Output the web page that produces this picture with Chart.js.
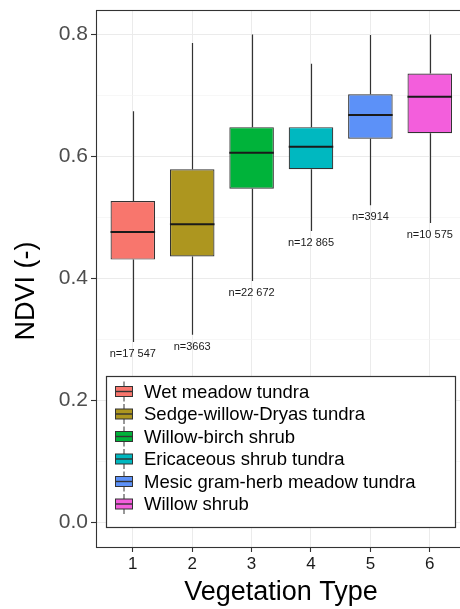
<!DOCTYPE html>
<html>
<head>
<meta charset="utf-8">
<script src="https://cdn.jsdelivr.net/npm/chart.js@4.4.1/dist/chart.umd.min.js"></script>
<style>
  html, body { margin: 0; padding: 0; overflow: hidden; background: #ffffff; }
  canvas { display: block; }
</style>
</head>
<body>
<canvas id="ndvi" width="470" height="609"></canvas>
<script>
// Vegetation type codes on the x axis
const categories = [1, 2, 3, 4, 5, 6];
const typeNames = [
  'Wet meadow tundra',
  'Sedge-willow-Dryas tundra',
  'Willow-birch shrub',
  'Ericaceous shrub tundra',
  'Mesic gram-herb meadow tundra',
  'Willow shrub'
];
// NDVI box-plot statistics per vegetation type
const whiskerLow  = [0.296, 0.308, 0.396, 0.478, 0.520, 0.491];
const lowerQuart  = [0.431, 0.436, 0.547, 0.579, 0.629, 0.638];
const medians     = [0.476, 0.489, 0.606, 0.616, 0.668, 0.698];
const upperQuart  = [0.527, 0.579, 0.648, 0.648, 0.702, 0.736];
const whiskerHigh = [0.674, 0.786, 0.800, 0.752, 0.799, 0.800];
const sampleSizes = ['n=17 547', 'n=3663', 'n=22 672', 'n=12 865', 'n=3914', 'n=10 575'];
// y axis: gridlines every 0.1, labels every 0.2
const yTicks = [0, 0.1, 0.2, 0.3, 0.4, 0.5, 0.6, 0.7, 0.8];
const yLabelled = [0, 0.2, 0.4, 0.6, 0.8];
const fills = ['#F8766D', '#AD961F', '#00B33A', '#00B8C0', '#5C91F8', '#F35EDC'];

const FONT = "'Liberation Sans', Arial, Helvetica, sans-serif";
const EDGE = '#333333';
const GRID = '#EBEBEB';

const isMajor = v => yLabelled.some(m => Math.abs(m - v) < 1e-9);

// whiskers behind the boxes, medians and counts on top
const boxMarks = {
  id: 'boxMarks',
  beforeDatasetsDraw(chart) {
    const { ctx, scales: { x, y } } = chart;
    ctx.save();
    ctx.strokeStyle = EDGE;
    ctx.lineWidth = 1.2;
    categories.forEach((c, i) => {
      const px = Math.round(x.getPixelForValue(c)) + 0.5;
      ctx.beginPath();
      ctx.moveTo(px, y.getPixelForValue(whiskerHigh[i]));
      ctx.lineTo(px, y.getPixelForValue(upperQuart[i]));
      ctx.moveTo(px, y.getPixelForValue(lowerQuart[i]));
      ctx.lineTo(px, y.getPixelForValue(whiskerLow[i]));
      ctx.stroke();
    });
    ctx.restore();
  },
  afterDatasetsDraw(chart) {
    const { ctx, scales: { x, y } } = chart;
    const meta = chart.getDatasetMeta(0);
    ctx.save();
    ctx.strokeStyle = '#1a1a1a';
    ctx.lineWidth = 2;
    categories.forEach((c, i) => {
      const bar = meta.data[i];
      const half = bar.width / 2;
      const px = x.getPixelForValue(c);
      const py = y.getPixelForValue(medians[i]);
      ctx.beginPath();
      ctx.moveTo(px - half, py);
      ctx.lineTo(px + half, py);
      ctx.stroke();
    });
    ctx.fillStyle = '#1a1a1a';
    ctx.font = '11px ' + FONT;
    ctx.textAlign = 'center';
    ctx.textBaseline = 'middle';
    categories.forEach((c, i) => {
      ctx.fillText(sampleSizes[i], x.getPixelForValue(c), y.getPixelForValue(whiskerLow[i]) + 12);
    });
    ctx.restore();
  }
};

// panel border, y title and the boxed legend
const panelDecor = {
  id: 'panelDecor',
  afterDraw(chart) {
    const { ctx, chartArea: a } = chart;
    ctx.save();
    ctx.strokeStyle = EDGE;
    ctx.lineWidth = 1.1;
    ctx.strokeRect(Math.round(a.left) + 0.5, Math.round(a.top) + 0.5,
                   Math.round(a.right - a.left), Math.round(a.bottom - a.top));

    // y axis title
    ctx.fillStyle = '#000000';
    ctx.font = '27px ' + FONT;
    ctx.textAlign = 'center';
    ctx.textBaseline = 'middle';
    ctx.translate(27, 291);
    ctx.rotate(-Math.PI / 2);
    ctx.fillText('NDVI (-)', 0, 0);
    ctx.setTransform(1, 0, 0, 1, 0, 0);

    // legend
    const lx = 106.5, ly = 376.5, lw = 349, lh = 151;
    ctx.fillStyle = '#ffffff';
    ctx.fillRect(lx, ly, lw, lh);
    ctx.strokeStyle = EDGE;
    ctx.lineWidth = 1.2;
    ctx.strokeRect(lx, ly, lw, lh);
    const ds = chart.data.datasets[0];
    typeNames.forEach((name, i) => {
      const cy = 391.5 + i * 22.5;
      const cx = 124;
      ctx.strokeStyle = EDGE;
      ctx.lineWidth = 1;
      ctx.beginPath();
      ctx.moveTo(cx, cy - 10);
      ctx.lineTo(cx, cy + 10);
      ctx.stroke();
      ctx.fillStyle = ds.backgroundColor[i];
      ctx.fillRect(cx - 8.5, cy - 5, 17, 10);
      ctx.strokeRect(cx - 8.5, cy - 5, 17, 10);
      ctx.lineWidth = 1.4;
      ctx.beginPath();
      ctx.moveTo(cx - 8.5, cy);
      ctx.lineTo(cx + 8.5, cy);
      ctx.stroke();
      ctx.fillStyle = '#000000';
      ctx.font = '18.5px ' + FONT;
      ctx.textAlign = 'left';
      ctx.textBaseline = 'middle';
      ctx.fillText(name, 144, cy + 1);
    });
    ctx.restore();
  }
};

new Chart(document.getElementById('ndvi'), {
  type: 'bar',
  data: {
    datasets: [{
      label: 'NDVI',
      data: categories.map((c, i) => ({ x: c, y: [lowerQuart[i], upperQuart[i]] })),
      backgroundColor: fills,
      borderColor: EDGE,
      borderWidth: 1.2,
      borderSkipped: false,
      categoryPercentage: 1,
      barPercentage: 0.75
    }]
  },
  options: {
    responsive: false,
    animation: false,
    devicePixelRatio: 1,
    layout: { padding: { top: 10, right: 4, left: 0, bottom: 0 } },
    plugins: { legend: { display: false }, tooltip: { enabled: false } },
    scales: {
      x: {
        type: 'linear',
        min: 0.38,
        max: 6.61,
        offset: false,
        afterBuildTicks: s => { s.ticks = categories.map(v => ({ value: v })); },
        afterFit: s => { s.height = 62; s.paddingLeft = 0; s.paddingRight = 0; },
        grid: { offset: false, color: GRID, lineWidth: 1, tickLength: 5, tickColor: EDGE, tickWidth: 1.1 },
        border: { display: false },
        ticks: {
          color: '#1a1a1a',
          font: { family: FONT, size: 17 },
          padding: 2,
          maxRotation: 0,
          callback: v => String(v)
        },
        title: {
          display: true,
          text: 'Vegetation Type',
          color: '#000000',
          font: { family: FONT, size: 27 },
          padding: { top: 0, bottom: 0 }
        }
      },
      y: {
        min: -0.04,
        max: 0.84,
        afterBuildTicks: s => { s.ticks = yTicks.map(v => ({ value: v })); },
        afterFit: s => { s.width = 96; s.paddingTop = 0; s.paddingBottom = 0; },
        grid: {
          color: c => isMajor(c.tick.value) ? GRID : '#F3F3F3',
          lineWidth: c => isMajor(c.tick.value) ? 1 : 0.7,
          tickLength: 5,
          tickColor: c => isMajor(c.tick.value) ? EDGE : 'rgba(0,0,0,0)',
          tickWidth: 1.1
        },
        border: { display: false },
        ticks: {
          color: '#4D4D4D',
          font: { family: FONT, size: 21 },
          padding: 3,
          callback: v => isMajor(v) ? v.toFixed(1) : ''
        }
      }
    }
  },
  plugins: [boxMarks, panelDecor]
});
</script>
</body>
</html>
